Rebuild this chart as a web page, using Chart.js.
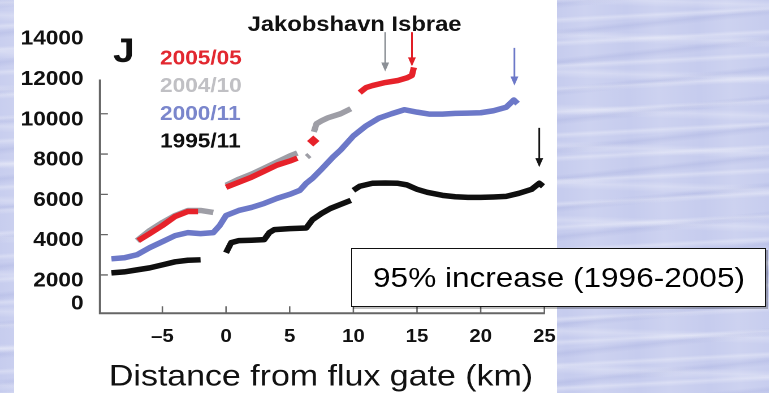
<!DOCTYPE html>
<html>
<head>
<meta charset="utf-8">
<script src="https://cdn.jsdelivr.net/npm/chart.js@4.4.1/dist/chart.umd.min.js"></script>
<style>
  body {
    margin: 0; width: 769px; height: 393px; overflow: hidden; position: relative;
    background-color: #c6ccee;
    background-image:
      repeating-linear-gradient(177deg, rgba(255,255,255,0) 0px, rgba(255,255,255,0.28) 3px, rgba(255,255,255,0) 7px, rgba(255,255,255,0) 23px),
      repeating-linear-gradient(182deg, rgba(255,255,255,0) 0px, rgba(255,255,255,0.22) 5px, rgba(255,255,255,0) 11px, rgba(255,255,255,0) 37px),
      repeating-linear-gradient(174deg, rgba(140,150,210,0) 0px, rgba(140,150,210,0.18) 4px, rgba(140,150,210,0) 9px, rgba(140,150,210,0) 29px),
      repeating-linear-gradient(88deg, rgba(255,255,255,0) 0px, rgba(255,255,255,0.12) 30px, rgba(255,255,255,0) 71px);
  }
  .panel { position: absolute; left: 14px; top: 0; width: 543px; height: 393px; background: #fff; }
  #wrap { position: absolute; left: 0; top: 0; width: 680px; height: 393px; transform: scaleX(1.1309); transform-origin: 0 0; }
  .note {
    position: absolute; left: 351px; top: 248px; width: 413px; height: 57px;
    border: 1.5px solid #111; background: #fff; box-shadow: 2px 2px 0 rgba(0,0,0,0.25);
    display: flex; align-items: center; justify-content: center;
    font: 28px "Liberation Sans", Arial, sans-serif; color: #000;
  }
  .note span { display: inline-block; transform: scaleX(1.127); }
</style>
</head>
<body>
<div class="panel"></div>
<div id="wrap"><canvas id="chart"></canvas></div>
<div class="note"><span>95% increase (1996-2005)</span></div>
<script>
// series: distance from flux gate (km) and speed (m/yr); null = gap
const seriesNames = ['2005/05', '2004/10', '2000/11', '1995/11'];

const redKm  = [-6.9, -6, -5, -4, -3, -2.2, -1.5, 0, 1, 2, 3, 4, 5, 5.6, 6.2, 6.85, 8, 10.5, 11, 11.5, 12.5, 13.5, 14.2, 14.6, 14.75];
const redVel = [3700, 4050, 4450, 4900, 5150, 5150, null, 6350, 6600, 6850, 7150, 7450, 7650, 7800, null, 8650, null, 11050, 11300, 11400, 11550, 11650, 11780, 11900, 12300];

const grayKm  = [-7, -6, -5, -4, -3, -2, -1, -0.5, 0, 1, 2, 3, 4, 5, 5.6, 6, 6.35, 6.55, 6.7, 6.9, 7.1, 7.5, 8, 9, 9.8];
const grayVel = [3700, 4200, 4600, 4950, 5200, 5200, 5100, null, 6450, 6750, 7000, 7300, 7600, 7900, 8050, null, 7850, 7950, null, 9100, 9500, 9650, 9800, 10000, 10250];

const blueKm  = [-9, -8, -7, -6, -5, -4, -3, -2, -1, -0.5, 0, 1, 2, 3, 4, 5, 5.8, 6.3, 6.8, 7.5, 8.4, 9, 10, 11, 12, 13, 14, 15, 16, 17, 18, 19, 20, 21, 22, 22.6, 22.9];
const blueVel = [2800, 2850, 3000, 3350, 3650, 3950, 4100, 4050, 4100, 4450, 4950, 5200, 5350, 5550, 5800, 6000, 6200, 6550, 6800, 7250, 7850, 8200, 8900, 9400, 9780, 10000, 10200, 10080, 9980, 9980, 10020, 10030, 10050, 10150, 10320, 10680, 10500];

const blackKm  = [-9, -8, -7, -6, -5, -4, -3, -2, -1, 0, 0.4, 1, 2, 3, 3.4, 3.8, 5, 6.3, 6.8, 7.5, 8.2, 9, 9.8, 9.9, 10, 10.5, 11.5, 12.5, 13.5, 14.2, 15, 15.8, 17, 18, 19, 20, 21, 22, 23, 24, 24.6, 24.9];
const blackVel = [2100, 2150, 2250, 2350, 2500, 2650, 2730, 2750, null, 3100, 3600, 3700, 3720, 3750, 4100, 4250, 4300, 4330, 4750, 5050, 5300, 5500, 5700, null, 6200, 6400, 6550, 6560, 6550, 6470, 6250, 6100, 5950, 5880, 5850, 5850, 5870, 5900, 6050, 6250, 6550, 6400];

// terminus arrows (gray, red, blue, black)
const arrowKm   = [12.5, 14.6, 22.65, 24.6];
const arrowFrom = [14050, 14050, 13270, 9300];
const arrowTo   = [12100, 12350, 11400, 7350];

const xTicks = [-5, 0, 5, 10, 15, 20, 25];
const yTicks = [0, 2000, 4000, 6000, 8000, 10000, 12000, 14000];
const yAxisTop = 11700;

const lineColors = ['rgb(230,34,42)', 'rgb(158,158,166)', 'rgb(108,120,200)', 'rgb(15,15,15)'];
const textColors = ['rgb(226,40,48)', 'rgb(192,192,196)', 'rgb(122,134,204)', 'rgb(15,15,15)'];
const arrowColors = ['rgb(140,144,150)', 'rgb(225,30,38)', 'rgb(108,120,200)', 'rgb(20,20,20)'];

function pts(xs, ys) {
  return xs.map((x, i) => ({ x: x, y: ys[i] }));
}

function lonely(ctx) {
  const d = ctx.dataset.data, i = ctx.dataIndex;
  if (!d[i] || d[i].y === null) return false;
  const prev = d[i - 1], next = d[i + 1];
  return (!prev || prev.y === null) && (!next || next.y === null);
}

const allX = [redKm, grayKm, blueKm, blackKm];
const allY = [redVel, grayVel, blueVel, blackVel];

const datasets = seriesNames.map((name, i) => ({
  label: name,
  data: pts(allX[i], allY[i]),
  showLine: true,
  spanGaps: false,
  borderColor: lineColors[i],
  borderWidth: 5.5,
  borderJoinStyle: 'round',
  pointStyle: 'rectRot',
  pointRadius: ctx => lonely(ctx) ? 5.5 : 0,
  pointBackgroundColor: lineColors[i],
  pointBorderWidth: 0
}));

const FONT = '"Liberation Sans", Arial, sans-serif';

const decor = {
  id: 'decor',
  afterDraw(chart) {
    const { ctx, chartArea: a, scales: { x, y } } = chart;
    ctx.save();

    // axes
    ctx.strokeStyle = '#666';
    ctx.lineWidth = 2;
    ctx.beginPath();
    ctx.moveTo(a.left, y.getPixelForValue(yAxisTop));
    ctx.lineTo(a.left, a.bottom);
    ctx.lineTo(a.right, a.bottom);
    ctx.stroke();

    ctx.lineWidth = 1.3;
    ctx.beginPath();
    yTicks.forEach(v => {
      if (v > 0 && v < yAxisTop) {
        const py = y.getPixelForValue(v);
        ctx.moveTo(a.left, py);
        ctx.lineTo(a.left + 7, py);
      }
    });
    xTicks.forEach(v => {
      const px = x.getPixelForValue(v);
      ctx.moveTo(px, a.bottom);
      ctx.lineTo(px, a.bottom - 7);
    });
    ctx.stroke();

    // y labels
    ctx.fillStyle = '#111';
    ctx.font = 'bold 20px ' + FONT;
    ctx.textAlign = 'right';
    ctx.textBaseline = 'middle';
    yTicks.forEach(v => {
      const py = Math.min(y.getPixelForValue(v) + 6, a.bottom - 9);
      ctx.fillText(String(v), a.left - 14.5, py);
    });

    // x labels
    ctx.font = 'bold 18px ' + FONT;
    ctx.textAlign = 'center';
    xTicks.forEach(v => {
      const t = v < 0 ? '\u2013' + Math.abs(v) : String(v);
      ctx.fillText(t, x.getPixelForValue(v), a.bottom + 24);
    });

    // x title
    ctx.font = '30px ' + FONT;
    ctx.fillText('Distance from flux gate (km)', 283.8, 377);

    // title and panel letter
    ctx.font = 'bold 21px ' + FONT;
    ctx.fillText('Jakobshavn Isbrae', 313.5, 25);
    ctx.textAlign = 'left';
    ctx.textBaseline = 'alphabetic';
    ctx.font = 'bold 34px ' + FONT;
    ctx.fillText('J', 100, 62);

    // legend
    ctx.font = 'bold 20px ' + FONT;
    ctx.textBaseline = 'middle';
    seriesNames.forEach((n, i) => {
      ctx.fillStyle = textColors[i];
      ctx.fillText(n, 141.5, 59 + i * 27.7);
    });

    // arrows
    arrowKm.forEach((k, i) => {
      const px = x.getPixelForValue(k);
      const top = y.getPixelForValue(arrowFrom[i]);
      const tip = y.getPixelForValue(arrowTo[i]);
      ctx.strokeStyle = arrowColors[i];
      ctx.fillStyle = arrowColors[i];
      ctx.lineWidth = 1.5;
      ctx.beginPath();
      ctx.moveTo(px, top);
      ctx.lineTo(px, tip - 6);
      ctx.stroke();
      ctx.beginPath();
      ctx.moveTo(px - 3.5, tip - 9);
      ctx.lineTo(px + 3.5, tip - 9);
      ctx.lineTo(px, tip);
      ctx.closePath();
      ctx.fill();
    });

    ctx.restore();
  }
};

new Chart(document.getElementById('chart'), {
  type: 'scatter',
  data: { datasets: datasets },
  options: {
    responsive: true,
    maintainAspectRatio: false,
    devicePixelRatio: 2,
    animation: false,
    events: [],
    layout: { padding: { left: 88.4, right: 198.1, top: 10, bottom: 79.8 } },
    scales: {
      x: { type: 'linear', min: -9.9, max: 25.05, display: false },
      y: { type: 'linear', min: 100, max: 15150, display: false }
    },
    plugins: { legend: { display: false }, tooltip: { enabled: false } }
  },
  plugins: [decor]
});
</script>
</body>
</html>
